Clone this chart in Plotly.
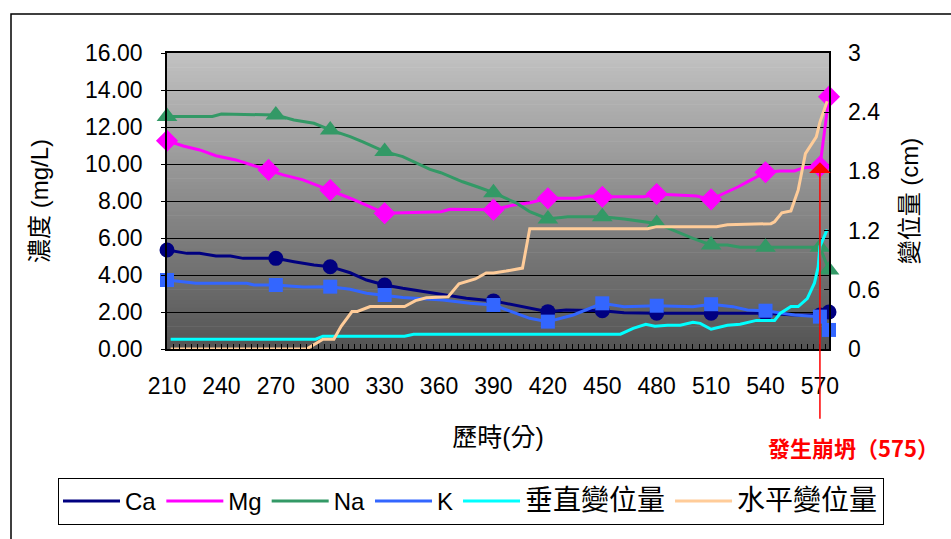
import plotly.graph_objects as go
import numpy as np

# ---- data: concentration series (mg/L), vertices of each polyline ----
ca_t = [210, 221, 228, 237, 245, 252, 259, 270, 280, 291, 300, 311, 320, 330, 340, 351, 359, 375, 390,
        401, 410, 420, 430, 450, 462, 480, 510, 540, 556, 570, 575]
ca_v = [5.35, 5.17, 5.17, 5.03, 5.03, 4.90, 4.90, 4.90, 4.72, 4.54, 4.45, 4.12, 3.73, 3.46, 3.28, 3.10, 3.01, 2.74, 2.60,
        2.40, 2.20, 2.02, 2.11, 2.07, 1.96, 1.93, 1.93, 1.93, 1.84, 1.84, 2.00]
ca_mark_t = [210, 270, 300, 330, 390, 420, 450, 480, 510, 540, 570, 575]

mg_t = [210, 219, 228, 237, 248, 266, 274, 285, 300, 311, 330, 361, 366, 390, 401, 410, 420, 436, 443, 450,
        473, 480, 502, 510, 519, 525, 532, 540, 548, 556, 561, 570, 575]
mg_v = [11.26, 10.97, 10.76, 10.45, 10.22, 9.68, 9.41, 9.14, 8.59, 8.15, 7.34, 7.42, 7.55, 7.53, 7.78, 7.91, 8.15, 8.15, 8.27, 8.23,
        8.23, 8.38, 8.27, 8.09, 8.50, 8.77, 9.14, 9.55, 9.62, 9.62, 9.80, 9.86, 13.64]
mg_mark_t = [210, 266, 300, 330, 390, 420, 450, 480, 510, 540, 570, 575]

na_t = [210, 235, 240, 270, 280, 291, 300, 311, 318, 330, 340, 355, 361, 373, 381, 390, 403, 410, 420, 431,
        450, 462, 480, 500, 510, 519, 526, 540, 570, 575]
na_v = [12.57, 12.57, 12.70, 12.65, 12.38, 12.20, 11.84, 11.48, 11.20, 10.67, 10.40, 9.71, 9.53, 9.04, 8.77, 8.45, 7.87, 7.42, 7.03, 7.15,
        7.15, 7.03, 6.79, 5.98, 5.62, 5.62, 5.50, 5.50, 5.50, 4.27]
na_mark_t = [210, 270, 300, 330, 390, 420, 450, 480, 510, 540, 570, 575]

k_t = [210, 226, 254, 258, 270, 285, 300, 311, 320, 330, 340, 362, 377, 390, 403, 410, 420, 434, 450, 462,
       480, 500, 510, 522, 530, 540, 556, 570, 575]
k_v = [3.73, 3.55, 3.55, 3.46, 3.46, 3.35, 3.37, 3.23, 3.01, 2.92, 2.79, 2.65, 2.47, 2.38, 1.93, 1.66, 1.48, 1.84, 2.47, 2.29,
       2.34, 2.29, 2.42, 2.29, 2.11, 2.07, 1.84, 1.75, 1.03]
k_mark_t = [210, 270, 300, 330, 390, 420, 450, 480, 510, 540, 570, 575]

# ---- data: displacement series (cm) ----
vert_t = [212, 292, 296, 341, 346, 460, 467, 474, 479, 486, 493, 500, 504, 510, 519, 526, 535, 545, 548, 554,
          558, 563, 567, 569, 570, 574]
vert_v = [0.10, 0.10, 0.13, 0.13, 0.15, 0.15, 0.21, 0.25, 0.23, 0.24, 0.24, 0.27, 0.26, 0.20, 0.24, 0.25, 0.29, 0.29, 0.36, 0.43,
          0.43, 0.51, 0.67, 0.83, 1.04, 1.21]

horz_t = [212, 287, 296, 302, 306, 312, 315, 322, 341, 347, 353, 365, 371, 380, 386, 390, 397, 406, 410, 475,
          480, 513, 519, 543, 545, 549, 554, 558, 562, 568, 570, 574]
horz_v = [0.00, 0.00, 0.10, 0.10, 0.23, 0.38, 0.38, 0.43, 0.43, 0.49, 0.52, 0.53, 0.66, 0.71, 0.77, 0.77, 0.79, 0.82, 1.22, 1.22,
          1.24, 1.24, 1.26, 1.27, 1.29, 1.38, 1.40, 1.61, 1.98, 2.15, 2.30, 2.51]

x_ticks = [210, 240, 270, 300, 330, 360, 390, 420, 450, 480, 510, 540, 570]
y_ticks = [0, 2, 4, 6, 8, 10, 12, 14, 16]
y2_ticks = [0, 0.6, 1.2, 1.8, 2.4, 3]
y2_labels = ["0", "0.6", "1.2", "1.8", "2.4", "3"]
collapse_t = 570          # arrow position on the time axis
collapse_label = "發生崩坍（575）"

FONT = "Liberation Sans, Arial, 'Noto Sans CJK TC', sans-serif"
CJK_SPAN = '<span style="font-size:28px">{}</span>'

# plot area in pixels
L, R, T, B = 167, 829, 53, 349
PW, PH = R - L, B - T


def px_x(x):
    return (x - L) / PW


def px_y(y):
    return (B - y) / PH


fig = go.Figure()

conc = [
    ("Ca", ca_t, ca_v, ca_mark_t, "#000080", "circle", 15),
    ("Mg", mg_t, mg_v, mg_mark_t, "#FF00FF", "diamond", 17),
    ("Na", na_t, na_v, na_mark_t, "#339966", "triangle-up", 18),
    ("K", k_t, k_v, k_mark_t, "#3366FF", "square", 14),
]
for name, t, v, mt, color, sym, size in conc:
    lookup = dict(zip(t, v))
    fig.add_trace(go.Scatter(x=t, y=v, mode="lines", name=name, legendgroup=name,
                             line=dict(color=color, width=3)))
    fig.add_trace(go.Scatter(x=mt, y=[lookup[m] for m in mt], mode="markers", legendgroup=name,
                             showlegend=False, cliponaxis=False,
                             marker=dict(color=color, symbol=sym, size=size, line=dict(width=0))))

fig.add_trace(go.Scatter(x=vert_t, y=vert_v, mode="lines", name=CJK_SPAN.format("垂直變位量"), yaxis="y2",
                         line=dict(color="#00FFFF", width=3)))
fig.add_trace(go.Scatter(x=horz_t, y=horz_v, mode="lines", name=CJK_SPAN.format("水平變位量"), yaxis="y2",
                         line=dict(color="#FFCC99", width=3)))

# plot-area gradient (light gray at top to dark gray at bottom)
shapes = []
n = 80
top = np.array([194, 194, 194])
bot = np.array([84, 84, 84])
for i in range(n):
    f = (i + 0.5) / n
    c = (top * (1 - f) + bot * f).round().astype(int)
    shapes.append(dict(type="rect", xref="x domain", yref="y domain", layer="below",
                       x0=0, x1=1, y0=1 - (i + 1) / n, y1=1 - i / n + 0.002,
                       fillcolor=f"rgb({c[0]},{c[1]},{c[2]})", line=dict(width=0)))
# outer chart frame
shapes.append(dict(type="rect", xref="paper", yref="paper", x0=px_x(11), x1=px_x(1000), y0=px_y(600),
                   y1=px_y(14), line=dict(color="black", width=1.5), fillcolor="rgba(0,0,0,0)", layer="below"))

fig.update_layout(
    width=951, height=539,
    margin=dict(l=L, r=951 - R, t=T, b=539 - B, autoexpand=False),
    paper_bgcolor="white", plot_bgcolor="rgba(0,0,0,0)",
    font=dict(family=FONT, size=23, color="black"),
    shapes=shapes,
    showlegend=True,
    legend=dict(orientation="h", x=px_x(58), y=px_y(478), xanchor="left", yanchor="top",
                bgcolor="white", bordercolor="black", borderwidth=1,
                font=dict(family=FONT, size=24), itemwidth=57, tracegroupgap=0),
    xaxis=dict(range=[210, 575], tickvals=x_ticks, ticks="inside", ticklen=5, tickcolor="black",
               showgrid=False, zeroline=False, showline=True, linecolor="black", linewidth=1.5,
               mirror=True, ticklabelstandoff=16, automargin=False,
               minor=dict(dtick=10 / 3, tick0=210, ticks="inside", ticklen=5, tickcolor="black", showgrid=False),
               title=dict(text="歷時(分)", font=dict(size=25), standoff=30)),
    yaxis=dict(range=[0, 16], tickvals=y_ticks, tickformat=".2f", ticks="outside", ticklen=4,
               tickcolor="black", showgrid=True, gridcolor="black", gridwidth=1, zeroline=False,
               showline=True, linecolor="black", linewidth=1.5, mirror=True, ticklabelstandoff=14,
               automargin=False,
               title=dict(text="濃度 (mg/L)", font=dict(size=24), standoff=30)),
    yaxis2=dict(range=[0, 3], tickvals=y2_ticks, ticktext=y2_labels, overlaying="y", side="right",
                ticks="inside", ticklen=5, tickcolor="black", showgrid=False, zeroline=False,
                showline=False, ticklabelstandoff=18, automargin=False,
                title=dict(text="變位量 (cm)", font=dict(size=24), standoff=22)),
)

# collapse marker: red arrow from below the axis up to the Mg curve, with its label
fig.add_annotation(x=collapse_t, y=10.1, xref="x", yref="y", text="", showarrow=True,
                   arrowhead=1, arrowsize=2.4, arrowwidth=1.5, arrowcolor="#FF0000",
                   ax=0, ay=258, standoff=0)
fig.add_annotation(x=px_x(853), y=px_y(447), xref="paper", yref="paper",
                   text="<b>" + collapse_label + "</b>", showarrow=False,
                   xanchor="center", yanchor="middle",
                   font=dict(family="'Noto Sans CJK TC', sans-serif", size=22, color="#FF0000"))

fig.write_html("out.html")
